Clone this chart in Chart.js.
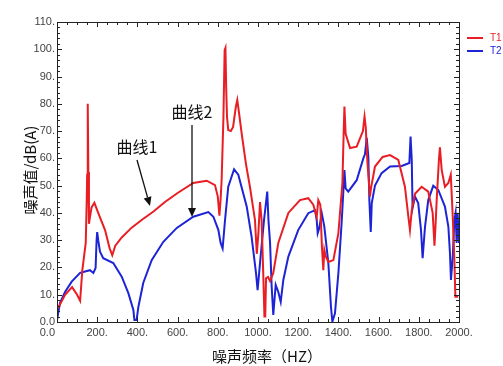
<!DOCTYPE html>
<html>
<head>
<meta charset="utf-8">
<script src="https://cdn.jsdelivr.net/npm/chart.js@4"></script>
<style>
  body { margin: 0; background: #fff; }
  canvas { display: block; }
</style>
</head>
<body>
<canvas id="noise" width="503" height="366"></canvas>
<script>
// curve 1 (red), frequency in Hz and noise in dB(A)
const redFreq = [5, 40, 75, 100, 115, 126, 143, 148, 150, 153, 156, 159, 163, 172, 186, 205, 239, 262, 275, 290, 322, 370, 421, 480, 537, 600, 678, 745, 786, 800, 808, 814, 819, 828, 834, 838, 842, 846, 852, 865, 876, 890, 897, 905, 919, 940, 960, 985, 994, 1002, 1010, 1018, 1026, 1032, 1036, 1040, 1050, 1060, 1076, 1101, 1151, 1209, 1250, 1275, 1292, 1300, 1310, 1318, 1325, 1330, 1337, 1350, 1375, 1400, 1420, 1426, 1430, 1436, 1458, 1491, 1522, 1530, 1536, 1544, 1557, 1562, 1582, 1620, 1657, 1698, 1731, 1748, 1756, 1765, 1781, 1814, 1847, 1869, 1878, 1883, 1889, 1900, 1905, 1914, 1930, 1947, 1959, 1969, 1977, 1982, 1996];
const redDb = [5, 10, 12.8, 10, 7.8, 19, 29, 45, 54, 80, 55, 36, 38, 42, 43.7, 40, 33.7, 27, 24.5, 28, 31, 34.5, 37.4, 40.5, 44, 47.3, 51, 51.8, 50.2, 46, 39, 45, 52, 75, 99.7, 100.5, 85, 75, 70.4, 70, 71.5, 79, 81.4, 77, 69, 58, 49.5, 37.4, 25, 32.6, 44, 37.4, 18, 2, 2, 16, 16.5, 15, 18, 29, 40, 44.7, 45.4, 43, 38.5, 44.7, 43, 27.6, 19, 26.4, 24, 22, 22.7, 32.6, 51, 69, 79, 69, 63.8, 64.3, 70, 75.3, 71.5, 59, 46, 49, 57, 60.5, 61.2, 59.4, 49.6, 38.6, 33.7, 41, 47, 49.6, 47.8, 40, 28, 35, 44.7, 59.4, 64, 55.7, 49.6, 51, 54, 38.6, 22.7, 9.3, 9.3];

// curve 2 (blue)
const blueFreq = [0, 15, 40, 73, 115, 164, 181, 192, 197, 200, 205, 214, 230, 280, 322, 355, 380, 385, 396, 405, 429, 471, 529, 596, 678, 753, 778, 803, 814, 824, 836, 852, 881, 902, 944, 968, 990, 998, 1010, 1030, 1046, 1052, 1060, 1068, 1076, 1088, 1101, 1113, 1126, 1151, 1200, 1250, 1284, 1292, 1297, 1305, 1317, 1330, 1350, 1363, 1370, 1383, 1400, 1416, 1425, 1430, 1436, 1449, 1491, 1524, 1532, 1541, 1549, 1554, 1561, 1566, 1582, 1615, 1657, 1715, 1753, 1759, 1765, 1769, 1781, 1797, 1811, 1819, 1831, 1847, 1872, 1897, 1930, 1947, 1955, 1960, 1969, 1977, 1983, 1988, 1993, 2000];
const blueDb = [0.7, 7, 11, 14.8, 18, 19, 18, 19.8, 30, 33, 30, 25.8, 23.4, 21.6, 16.6, 10.6, 4.4, 0.7, 0.7, 5.6, 14.3, 22.7, 29.4, 34.5, 38.6, 40.3, 38.6, 33.7, 29, 27, 37.4, 49.6, 56, 54, 42.3, 31.3, 18, 11.7, 21.6, 37.4, 47.8, 37.4, 29, 13, 2.6, 13.6, 11, 7.4, 15.4, 24, 33.7, 39.9, 41, 37.4, 32.6, 34.5, 40, 35, 21.6, 5.6, 0.1, 3.2, 18, 36.3, 48.4, 55.7, 49, 47.8, 52, 60, 61.5, 67.5, 60.6, 44.7, 33, 43.6, 50, 54.6, 57, 57.2, 58.3, 68, 59.4, 41.8, 46, 43.6, 33.7, 23.4, 35, 44.7, 50, 48.4, 42.3, 35, 25.3, 15.4, 24, 37.4, 40, 29, 40, 29];

const xTicks = [0, 200, 400, 600, 800, 1000, 1200, 1400, 1600, 1800, 2000];
const yTicks = [0, 10, 20, 30, 40, 50, 60, 70, 80, 90, 100, 110];

const RED = 'rgb(232,30,36)';
const BLUE = 'rgb(28,36,214)';
const tickFont = { family: 'Liberation Sans', size: 11 };
const cjk = '"Noto Sans CJK SC", "Noto Sans", sans-serif';

function pts(xs, ys) {
  return xs.map((x, i) => ({ x: x, y: ys[i] }));
}

// frame, inward ticks, titles, arrows and the legend
const decor = {
  id: 'decor',
  afterDraw(chart) {
    const ctx = chart.ctx;
    const a = chart.chartArea;
    const xs = chart.scales.x, ys = chart.scales.y;
    ctx.save();
    ctx.strokeStyle = '#222';
    ctx.lineWidth = 1;
    ctx.strokeRect(a.left + 0.5, a.top + 0.5, a.right - a.left, a.bottom - a.top);

    ctx.beginPath();
    for (let v = 0; v <= 2000; v += 50) {
      const px = Math.round(xs.getPixelForValue(v)) + 0.5;
      const len = v % 200 === 0 ? 5 : 3;
      ctx.moveTo(px, a.bottom); ctx.lineTo(px, a.bottom - len);
      ctx.moveTo(px, a.top); ctx.lineTo(px, a.top + len);
    }
    for (let v = 0; v <= 110; v += 2) {
      const py = Math.round(ys.getPixelForValue(v)) + 0.5;
      const len = v % 10 === 0 ? 5 : 3;
      ctx.moveTo(a.left, py); ctx.lineTo(a.left + len, py);
      ctx.moveTo(a.right, py); ctx.lineTo(a.right - len, py);
    }
    ctx.stroke();

    // x origin label sits left of the axis like the y one
    ctx.fillStyle = '#444';
    ctx.font = '11px "Liberation Sans"';
    ctx.textAlign = 'right';
    ctx.textBaseline = 'middle';
    ctx.fillText('0.0', a.left - 2, a.bottom + 11);

    // axis titles
    ctx.fillStyle = '#111';
    ctx.font = '15px ' + cjk;
    ctx.textAlign = 'center';
    ctx.fillText('噪声频率（HZ）', 267, 356);
    ctx.save();
    ctx.translate(30, 170);
    ctx.rotate(-Math.PI / 2);
    ctx.fillText('噪声值/dB(A)', 0, 0);
    ctx.restore();

    // curve labels
    ctx.font = '16px ' + cjk;
    ctx.fillText('曲线1', 137, 147);
    ctx.fillText('曲线2', 192, 112);
    arrow(ctx, 137, 160, 150, 206);
    arrow(ctx, 192, 125, 192, 217);

    // legend, clipped by the page edge
    ctx.lineWidth = 2;
    ctx.font = '10px "Liberation Sans"';
    ctx.textAlign = 'left';
    chart.data.datasets.forEach((ds, i) => {
      const y = 38 + i * 13;
      ctx.strokeStyle = ds.borderColor;
      ctx.beginPath(); ctx.moveTo(467, y); ctx.lineTo(483, y); ctx.stroke();
      ctx.fillStyle = ds.borderColor;
      ctx.fillText(ds.label, 490, y);
    });
    ctx.restore();
  }
};

function arrow(ctx, x1, y1, x2, y2) {
  const ang = Math.atan2(y2 - y1, x2 - x1);
  const hl = 9, hw = 4;
  const bx = x2 - hl * Math.cos(ang), by = y2 - hl * Math.sin(ang);
  ctx.save();
  ctx.strokeStyle = '#111';
  ctx.fillStyle = '#111';
  ctx.lineWidth = 1.3;
  ctx.beginPath(); ctx.moveTo(x1, y1); ctx.lineTo(bx, by); ctx.stroke();
  ctx.beginPath();
  ctx.moveTo(x2, y2);
  ctx.lineTo(bx + hw * Math.sin(ang), by - hw * Math.cos(ang));
  ctx.lineTo(bx - hw * Math.sin(ang), by + hw * Math.cos(ang));
  ctx.closePath(); ctx.fill();
  ctx.restore();
}

new Chart(document.getElementById('noise'), {
  type: 'line',
  data: {
    datasets: [
      { label: 'T1', data: pts(redFreq, redDb), borderColor: RED, borderWidth: 2 },
      { label: 'T2', data: pts(blueFreq, blueDb), borderColor: BLUE, borderWidth: 2 }
    ]
  },
  options: {
    responsive: false,
    animation: false,
    devicePixelRatio: 1,
    layout: { padding: { left: 0, top: 22, right: 44, bottom: 0 } },
    elements: { point: { radius: 0 }, line: { tension: 0 } },
    plugins: { legend: { display: false }, tooltip: { enabled: false } },
    scales: {
      x: {
        type: 'linear', min: 0, max: 2000,
        afterFit: s => { s.height = 44; },
        afterBuildTicks: s => { s.ticks = xTicks.map(v => ({ value: v })); },
        grid: { display: false, drawTicks: false },
        border: { display: false },
        ticks: { font: tickFont, color: '#444', padding: 4, maxRotation: 0,
                 callback: v => v === 0 ? '' : v + '.' }
      },
      y: {
        min: 0, max: 110,
        afterFit: s => { s.width = 57; },
        afterBuildTicks: s => { s.ticks = yTicks.map(v => ({ value: v })); },
        grid: { display: false, drawTicks: false },
        border: { display: false },
        ticks: { font: tickFont, color: '#444', padding: 2,
                 callback: v => v === 0 ? '0.0' : v + '.' }
      }
    }
  },
  plugins: [decor]
});
</script>
</body>
</html>
